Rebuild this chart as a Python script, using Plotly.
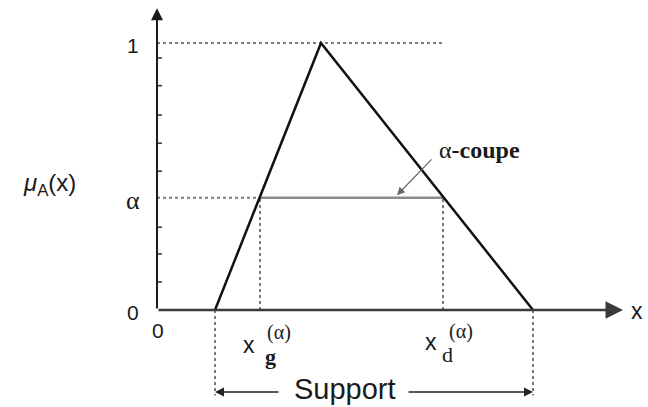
import plotly.graph_objects as go

# triangular fuzzy set A (x in plot units, 0 = vertical axis)
tri_x = [0.58, 1.64, 3.76]
tri_mu = [0.0, 1.0, 0.0]
alpha = 0.42
x_g = 1.03
x_d = 2.86
top_dot_end = 2.85
x_axis_end = 4.66
y_axis_end = 1.13
y_minor_ticks = [0.105, 0.21, 0.31, 0.52, 0.625, 0.73, 0.84, 0.944]
support_y = -0.307
drop_y = -0.32

SANS = "Liberation Sans, Arial, sans-serif"
SERIF = "Liberation Serif, Times New Roman, serif"
DOT = "#7a7a7a"

fig = go.Figure()


def seg(xs, ys, color, width, dash="solid"):
    fig.add_trace(go.Scatter(x=xs, y=ys, mode="lines", hoverinfo="skip",
                             line=dict(color=color, width=width, dash=dash)))


# dotted guides
seg([0, top_dot_end], [1, 1], DOT, 2, "3px,3px")
seg([0, x_g], [alpha, alpha], DOT, 2, "3px,3px")
seg([x_g, x_g], [0, alpha], DOT, 2, "3px,3px")
seg([x_d, x_d], [0, alpha], DOT, 2, "3px,3px")
seg([tri_x[0], tri_x[0]], [0, drop_y], DOT, 2, "3px,3px")
seg([tri_x[2], tri_x[2]], [0, drop_y], DOT, 2, "3px,3px")

# alpha cut
seg([x_g, x_d], [alpha, alpha], "#8c8c8c", 2.5)

# minor ticks on the vertical axis
tx, ty = [], []
for t in y_minor_ticks:
    tx += [0, 0.05, None]
    ty += [t, t, None]
seg(tx, ty, "#333333", 1.5)

# membership function
seg(tri_x, tri_mu, "#111111", 2.5)

annotations = [
    # axes with arrowheads
    dict(x=x_axis_end, y=0, ax=0, ay=0, arrowcolor="#3a3a3a", arrowwidth=2.5, arrowsize=1.4),
    dict(x=0, y=y_axis_end, ax=0, ay=0, arrowcolor="#1a1a1a", arrowwidth=2),
    # support arrows
    dict(x=tri_x[0], y=support_y, ax=1.23, ay=support_y, arrowcolor="#222", arrowwidth=1.5),
    dict(x=tri_x[2], y=support_y, ax=2.50, ay=support_y, arrowcolor="#222", arrowwidth=1.5),
    # alpha-cut pointer
    dict(x=2.40, y=0.43, ax=2.76, ay=0.57, arrowcolor="#666", arrowwidth=1.2, arrowsize=1.3),
]
for a in annotations:
    a.update(xref="x", yref="y", axref="x", ayref="y", showarrow=True, text="",
             arrowhead=a.get("arrowhead", 2), arrowsize=a.get("arrowsize", 1.2))

texts = [
    ("1", -0.24, 0.99, SANS, 21),
    ("α", -0.24, 0.41, SERIF, 26),
    ("0", -0.24, -0.01, SANS, 21),
    ("0", 0.01, -0.075, SANS, 21),
    ("x", 4.80, -0.005, SANS, 23),
    ("<i>μ</i><sub>A</sub>(x)", -1.08, 0.47, SANS, 24),
    ("α<b>-coupe</b>", 3.22, 0.60, SERIF, 24),
    ("Support", 1.875, support_y + 0.012, SANS, 29),
    ("x", 0.92, -0.13, SANS, 23),
    ("(α)", 1.22, -0.086, SERIF, 20),
    ("<b>g</b>", 1.13, -0.175, SERIF, 22),
    ("x", 2.74, -0.12, SANS, 23),
    ("(α)", 3.04, -0.082, SERIF, 20),
    ("d", 2.90, -0.165, SERIF, 22),
]
for txt, x, y, fam, size in texts:
    annotations.append(dict(x=x, y=y, xref="x", yref="y", text=txt, showarrow=False,
                            font=dict(family=fam, size=size, color="#1a1a1a"),
                            xanchor="center", yanchor="middle"))

fig.update_layout(
    width=648, height=407,
    margin=dict(l=0, r=0, t=0, b=0),
    paper_bgcolor="white", plot_bgcolor="white",
    showlegend=False,
    xaxis=dict(range=[-1.57, 4.91], visible=False, fixedrange=True),
    yaxis=dict(range=[-0.3633, 1.161], visible=False, fixedrange=True),
    annotations=annotations,
)

fig.write_html("out.html", config={"displayModeBar": False},
               post_script="document.body.style.margin='0';")
